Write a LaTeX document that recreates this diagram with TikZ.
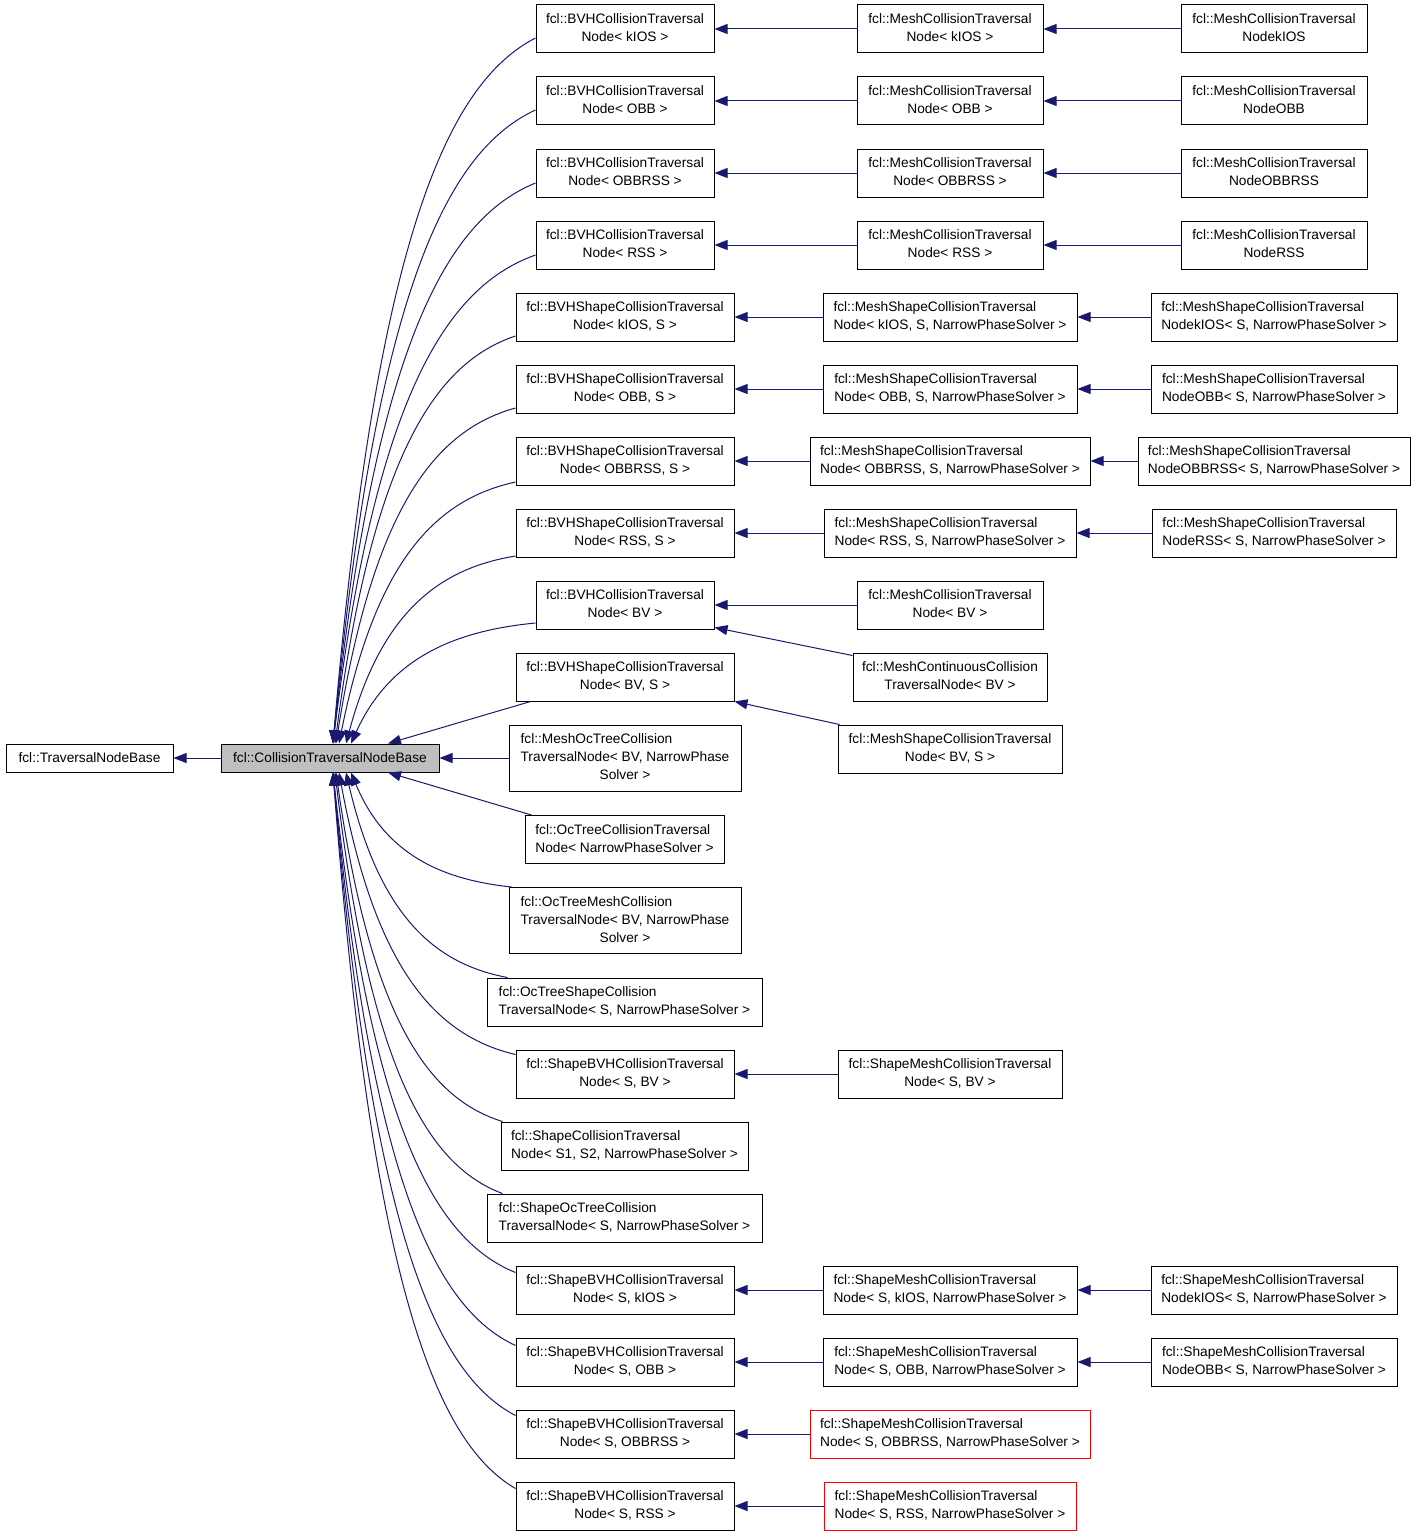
\documentclass[tikz,border=0pt]{standalone}
\usepackage{fontspec}
\setmainfont{Liberation Sans}
\usetikzlibrary{arrows.meta,calc}
\definecolor{edgeblue}{HTML}{191970}
\definecolor{nodegray}{HTML}{BFBFBF}
\newcommand\twoline[2]{\begin{tabular}{@{}l@{}}#1\\\multicolumn{1}{@{}c@{}}{#2}\end{tabular}}
\newcommand\threeline[3]{\begin{tabular}{@{}l@{}}#1\\#2\\\multicolumn{1}{@{}c@{}}{#3}\end{tabular}}
\newcommand\curv[2]{\draw[inh] let \p1=(#1), \p2=(#2) in (\p1) .. controls ($(\p2)+({0.56*((\x1)-(\x2))},{0.935*((\y1)-(\y2))})$) and ($(\p2)+({0.21*((\x1)-(\x2))},{0.71*((\y1)-(\y2))})$) .. (\p2);}
\begin{document}
\begin{tikzpicture}[x=1pt,y=-1pt,
  box/.style={draw=black, line width=1pt, inner sep=0pt, minimum height=48pt, fill=white, font=\fontsize{13.7}{18}\selectfont},
  redbox/.style={box, draw=red},
  inh/.style={draw=edgeblue, line width=1pt, -{Triangle[length=13pt,width=10pt]}}]
\useasboundingbox (0,0) rectangle (1416,1536);
% left
\node[box, minimum height=28pt, minimum width=167pt] (tnb) at (89.5,758) {fcl::TraversalNodeBase};
\node[box, fill=nodegray, minimum height=28pt, minimum width=218pt] (ctnb) at (330,758) {fcl::CollisionTraversalNodeBase};
% column 2
\node[box, minimum width=178pt] (b1) at (625,29) {\twoline{fcl::BVHCollisionTraversal}{Node< kIOS >}};
\node[box, minimum width=178pt] (b2) at (625,101) {\twoline{fcl::BVHCollisionTraversal}{Node< OBB >}};
\node[box, minimum width=178pt] (b3) at (625,173) {\twoline{fcl::BVHCollisionTraversal}{Node< OBBRSS >}};
\node[box, minimum width=178pt] (b4) at (625,245) {\twoline{fcl::BVHCollisionTraversal}{Node< RSS >}};
\node[box, minimum width=218pt] (s1) at (625,317) {\twoline{fcl::BVHShapeCollisionTraversal}{Node< kIOS, S >}};
\node[box, minimum width=218pt] (s2) at (625,389) {\twoline{fcl::BVHShapeCollisionTraversal}{Node< OBB, S >}};
\node[box, minimum width=218pt] (s3) at (625,461) {\twoline{fcl::BVHShapeCollisionTraversal}{Node< OBBRSS, S >}};
\node[box, minimum width=218pt] (s4) at (625,533) {\twoline{fcl::BVHShapeCollisionTraversal}{Node< RSS, S >}};
\node[box, minimum width=178pt] (bv) at (625,605) {\twoline{fcl::BVHCollisionTraversal}{Node< BV >}};
\node[box, minimum width=218pt] (bvs) at (625,677) {\twoline{fcl::BVHShapeCollisionTraversal}{Node< BV, S >}};
\node[box, minimum width=232pt, minimum height=66pt] (mot) at (625,758) {\threeline{fcl::MeshOcTreeCollision}{TraversalNode< BV, NarrowPhase}{Solver >}};
\node[box, minimum width=199pt] (otc) at (624.5,839.5) {\twoline{fcl::OcTreeCollisionTraversal}{Node< NarrowPhaseSolver >}};
\node[box, minimum width=232pt, minimum height=66pt] (otm) at (625,920.5) {\threeline{fcl::OcTreeMeshCollision}{TraversalNode< BV, NarrowPhase}{Solver >}};
\node[box, minimum width=275pt] (ots) at (624.5,1002) {\twoline{fcl::OcTreeShapeCollision}{TraversalNode< S, NarrowPhaseSolver >}};
\node[box, minimum width=218pt] (sb) at (625,1074) {\twoline{fcl::ShapeBVHCollisionTraversal}{Node< S, BV >}};
\node[box, minimum width=247pt] (sc) at (624.5,1146) {\twoline{fcl::ShapeCollisionTraversal}{Node< S1, S2, NarrowPhaseSolver >}};
\node[box, minimum width=275pt] (so) at (624.5,1218) {\twoline{fcl::ShapeOcTreeCollision}{TraversalNode< S, NarrowPhaseSolver >}};
\node[box, minimum width=218pt] (sb1) at (625,1290) {\twoline{fcl::ShapeBVHCollisionTraversal}{Node< S, kIOS >}};
\node[box, minimum width=218pt] (sb2) at (625,1362) {\twoline{fcl::ShapeBVHCollisionTraversal}{Node< S, OBB >}};
\node[box, minimum width=218pt] (sb3) at (625,1434) {\twoline{fcl::ShapeBVHCollisionTraversal}{Node< S, OBBRSS >}};
\node[box, minimum width=218pt] (sb4) at (625,1506) {\twoline{fcl::ShapeBVHCollisionTraversal}{Node< S, RSS >}};
% column 3
\node[box, minimum width=186pt] (m1) at (950,29) {\twoline{fcl::MeshCollisionTraversal}{Node< kIOS >}};
\node[box, minimum width=186pt] (m2) at (950,101) {\twoline{fcl::MeshCollisionTraversal}{Node< OBB >}};
\node[box, minimum width=186pt] (m3) at (950,173) {\twoline{fcl::MeshCollisionTraversal}{Node< OBBRSS >}};
\node[box, minimum width=186pt] (m4) at (950,245) {\twoline{fcl::MeshCollisionTraversal}{Node< RSS >}};
\node[box, minimum width=254pt] (ms1) at (950,317) {\twoline{fcl::MeshShapeCollisionTraversal}{Node< kIOS, S, NarrowPhaseSolver >}};
\node[box, minimum width=254pt] (ms2) at (950,389) {\twoline{fcl::MeshShapeCollisionTraversal}{Node< OBB, S, NarrowPhaseSolver >}};
\node[box, minimum width=280pt] (ms3) at (950,461) {\twoline{fcl::MeshShapeCollisionTraversal}{Node< OBBRSS, S, NarrowPhaseSolver >}};
\node[box, minimum width=252pt] (ms4) at (950,533) {\twoline{fcl::MeshShapeCollisionTraversal}{Node< RSS, S, NarrowPhaseSolver >}};
\node[box, minimum width=186pt] (mbv) at (950,605) {\twoline{fcl::MeshCollisionTraversal}{Node< BV >}};
\node[box, minimum width=194pt] (mcc) at (950,677) {\twoline{fcl::MeshContinuousCollision}{TraversalNode< BV >}};
\node[box, minimum width=224pt] (msbv) at (950,749) {\twoline{fcl::MeshShapeCollisionTraversal}{Node< BV, S >}};
\node[box, minimum width=224pt] (smbv) at (950,1074) {\twoline{fcl::ShapeMeshCollisionTraversal}{Node< S, BV >}};
\node[box, minimum width=254pt] (sm1) at (950,1290) {\twoline{fcl::ShapeMeshCollisionTraversal}{Node< S, kIOS, NarrowPhaseSolver >}};
\node[box, minimum width=254pt] (sm2) at (950,1362) {\twoline{fcl::ShapeMeshCollisionTraversal}{Node< S, OBB, NarrowPhaseSolver >}};
\node[redbox, minimum width=280pt] (sm3) at (950,1434) {\twoline{fcl::ShapeMeshCollisionTraversal}{Node< S, OBBRSS, NarrowPhaseSolver >}};
\node[redbox, minimum width=252pt] (sm4) at (950,1506) {\twoline{fcl::ShapeMeshCollisionTraversal}{Node< S, RSS, NarrowPhaseSolver >}};
% column 4
\node[box, minimum width=186pt] (n1) at (1274,29) {\twoline{fcl::MeshCollisionTraversal}{NodekIOS}};
\node[box, minimum width=186pt] (n2) at (1274,101) {\twoline{fcl::MeshCollisionTraversal}{NodeOBB}};
\node[box, minimum width=186pt] (n3) at (1274,173) {\twoline{fcl::MeshCollisionTraversal}{NodeOBBRSS}};
\node[box, minimum width=186pt] (n4) at (1274,245) {\twoline{fcl::MeshCollisionTraversal}{NodeRSS}};
\node[box, minimum width=246pt] (ns1) at (1274,317) {\twoline{fcl::MeshShapeCollisionTraversal}{NodekIOS< S, NarrowPhaseSolver >}};
\node[box, minimum width=246pt] (ns2) at (1274,389) {\twoline{fcl::MeshShapeCollisionTraversal}{NodeOBB< S, NarrowPhaseSolver >}};
\node[box, minimum width=272pt] (ns3) at (1274,461) {\twoline{fcl::MeshShapeCollisionTraversal}{NodeOBBRSS< S, NarrowPhaseSolver >}};
\node[box, minimum width=244pt] (ns4) at (1274,533) {\twoline{fcl::MeshShapeCollisionTraversal}{NodeRSS< S, NarrowPhaseSolver >}};
\node[box, minimum width=246pt] (nsm1) at (1274,1290) {\twoline{fcl::ShapeMeshCollisionTraversal}{NodekIOS< S, NarrowPhaseSolver >}};
\node[box, minimum width=246pt] (nsm2) at (1274,1362) {\twoline{fcl::ShapeMeshCollisionTraversal}{NodeOBB< S, NarrowPhaseSolver >}};
% straight edges
\draw[inh] (ctnb.west) -- (tnb.east);
\draw[inh] (mot.west) -- (ctnb.east);
\foreach \a/\b in {n1/m1,n2/m2,n3/m3,n4/m4,ns1/ms1,ns2/ms2,ns3/ms3,ns4/ms4,nsm1/sm1,nsm2/sm2,
  m1/b1,m2/b2,m3/b3,m4/b4,ms1/s1,ms2/s2,ms3/s3,ms4/s4,mbv/bv,smbv/sb,sm1/sb1,sm2/sb2,sm3/sb3,sm4/sb4}
  \draw[inh] (\a.west) -- (\b.east);
\draw[inh] ([yshift=-3pt]mcc.north west) -- ([yshift=2pt]bv.south east);
\draw[inh] ([xshift=2pt]msbv.north west) -- (bvs.south east);
\draw[inh] ([xshift=15pt]bvs.south west) -- ([xshift=58pt]ctnb.north);
\draw[inh] ([xshift=7pt]otc.north west) -- ([xshift=58pt]ctnb.south);
% curved edges
\curv{[yshift=-9pt]b1.west}{[xshift=3pt]ctnb.north}
\curv{[yshift=-9pt]b2.west}{[xshift=3pt]ctnb.north}
\curv{[yshift=-10pt]b3.west}{[xshift=3pt]ctnb.north}
\curv{[yshift=-10pt]b4.west}{[xshift=3pt]ctnb.north}
\curv{[yshift=-19pt]s1.west}{[xshift=5pt]ctnb.north}
\curv{[yshift=-19pt]s2.west}{[xshift=6pt]ctnb.north}
\curv{[yshift=-21pt]s3.west}{[xshift=9pt]ctnb.north}
\curv{[yshift=-23pt]s4.west}{[xshift=16pt]ctnb.north}
\curv{[yshift=-18pt]bv.west}{[xshift=21pt]ctnb.north}
\curv{[xshift=3pt]otm.north west}{[xshift=21pt]ctnb.south}
\curv{[xshift=21pt]ots.north west}{[xshift=16pt]ctnb.south}
\curv{[yshift=-5pt]sb.north west}{[xshift=9pt]ctnb.south}
\curv{[xshift=2pt]sc.north west}{[xshift=6pt]ctnb.south}
\curv{[xshift=16pt]so.north west}{[xshift=5pt]ctnb.south}
\curv{[yshift=-7pt]sb1.north west}{[xshift=3pt]ctnb.south}
\curv{[yshift=-8pt]sb2.north west}{[xshift=3pt]ctnb.south}
\curv{[yshift=-6pt]sb3.north west}{[xshift=3pt]ctnb.south}
\curv{[yshift=-7pt]sb4.north west}{[xshift=3pt]ctnb.south}
\end{tikzpicture}
\end{document}
